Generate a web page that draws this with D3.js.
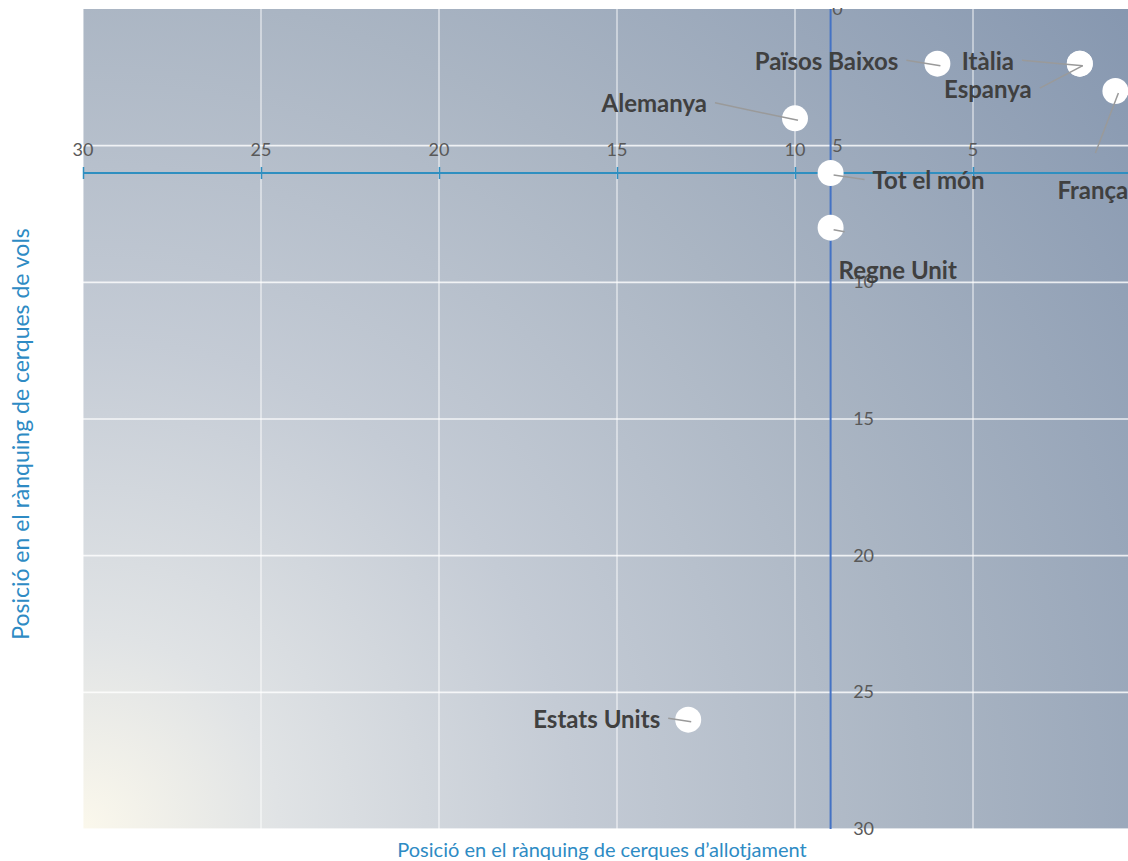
<!DOCTYPE html>
<html>
<head>
<meta charset="utf-8">
<script src="https://cdn.jsdelivr.net/npm/d3@7"></script>
<style>
  body { margin: 0; background: #fff; }
  .tick-label { font-family: Lato, "Open Sans", sans-serif; font-size: 18px; fill: #595959; }
  .pt-label { font-family: Lato, "Open Sans", sans-serif; font-size: 24px; font-weight: bold; fill: #404040; }
  .axis-title { font-family: Lato, "Open Sans", sans-serif; font-size: 20px; fill: #2e8bc4; }
</style>
</head>
<body>
<div id="chart"></div>
<script>
// countries and their positions in both rankings
var countries = ["Tot el món", "Regne Unit", "Alemanya", "Països Baixos", "Itàlia", "Espanya", "França", "Estats Units"];
var allotjament = [9, 9, 10, 6, 2, 2, 1, 13];   // x: accommodation search rank
var vols        = [6, 8, 4, 2, 2, 2, 3, 26];    // y: flight search rank
var xTicks = [30, 25, 20, 15, 10, 5, 0];
var yTicks = [0, 5, 10, 15, 20, 25, 30];

// where each label sits relative to its point (dx, dy, anchor)
var labelPos = {
    "Tot el món":    [42, 8, "start"],
    "Regne Unit":    [8, 43, "start"],
    "Alemanya":      [-88, -14, "end"],
    "Països Baixos": [-39, -2, "end"],
    "Itàlia":        [-118, -2, "start"],
    "Espanya":       [-48, 26, "end"],
    "França":        [-58, 100, "start"],
    "Estats Units":  [-28, 0, "end"]
};

var width = 1128, height = 861;
var plot = {left: 83, right: 1151, top: 9, bottom: 829};

var svg = d3.select("#chart").append("svg")
    .attr("width", width)
    .attr("height", height);

var defs = svg.append("defs");
var grad = defs.append("radialGradient")
    .attr("id", "bg")
    .attr("gradientUnits", "userSpaceOnUse")
    .attr("cx", plot.left).attr("cy", plot.bottom).attr("r", 1400);
grad.append("stop").attr("offset", "0%").attr("stop-color", "#fbf8ec");
grad.append("stop").attr("offset", "14%").attr("stop-color", "#e0e3e5");
grad.append("stop").attr("offset", "35%").attr("stop-color", "#c4cbd5");
grad.append("stop").attr("offset", "60%").attr("stop-color", "#aab5c3");
grad.append("stop").attr("offset", "100%").attr("stop-color", "#8193ad");

var x = d3.scaleLinear().domain([30, 0]).range([plot.left, plot.right]);
var y = d3.scaleLinear().domain([0, 30]).range([plot.top, plot.bottom]);

svg.append("rect")
    .attr("x", plot.left).attr("y", plot.top)
    .attr("width", width - plot.left).attr("height", plot.bottom - plot.top)
    .attr("fill", "url(#bg)");

// gridlines
svg.append("g").selectAll("line")
    .data(xTicks.filter(function(d) { return d > 0; }))
    .enter().append("line")
    .attr("x1", function(d) { return x(d); }).attr("x2", function(d) { return x(d); })
    .attr("y1", plot.top).attr("y2", plot.bottom)
    .attr("stroke", "#ffffff").attr("stroke-opacity", 0.75).attr("stroke-width", 1.2);

svg.append("g").selectAll("line")
    .data(yTicks.filter(function(d) { return d > 0; }))
    .enter().append("line")
    .attr("x1", plot.left).attr("x2", width)
    .attr("y1", function(d) { return y(d); }).attr("y2", function(d) { return y(d); })
    .attr("stroke", "#ffffff").attr("stroke-opacity", 0.8).attr("stroke-width", 1.6);

// horizontal axis crosses at the "Tot el món" flight rank
var xAxisY = y(vols[0]);
var yAxisX = x(allotjament[0]);

var xAxis = d3.axisBottom(x).tickValues(xTicks).tickSize(12).tickFormat("");
var gx = svg.append("g")
    .attr("transform", "translate(0," + (xAxisY - 6) + ")")
    .call(xAxis);
gx.select(".domain").remove();
gx.selectAll(".tick line").attr("stroke", "#2f8fc0").attr("stroke-width", 1.5);
svg.append("line")
    .attr("x1", plot.left).attr("x2", width)
    .attr("y1", xAxisY).attr("y2", xAxisY)
    .attr("stroke", "#2f8fc0").attr("stroke-width", 2);

svg.append("g").selectAll("text")
    .data(xTicks.filter(function(d) { return x(d) < width - 10; }))
    .enter().append("text")
    .attr("class", "tick-label")
    .attr("x", function(d) { return x(d); })
    .attr("y", xAxisY - 17)
    .attr("text-anchor", "middle")
    .text(function(d) { return d; });

// vertical axis
svg.append("line")
    .attr("x1", yAxisX).attr("x2", yAxisX)
    .attr("y1", plot.top).attr("y2", plot.bottom)
    .attr("stroke", "#4472c4").attr("stroke-width", 2);

svg.append("g").selectAll("text")
    .data(yTicks)
    .enter().append("text")
    .attr("class", "tick-label")
    .attr("x", function(d) { return yAxisX + (d < 10 ? 7 : 33); })
    .attr("y", function(d) { return y(d) + 6; })
    .attr("text-anchor", "middle")
    .text(function(d) { return d; });

// points
var pts = countries.map(function(c, i) {
    return {name: c, px: x(allotjament[i]), py: y(vols[i]), lp: labelPos[c]};
});

svg.append("g").selectAll("circle")
    .data(pts)
    .enter().append("circle")
    .attr("cx", function(d) { return d.px; })
    .attr("cy", function(d) { return d.py; })
    .attr("r", 13)
    .attr("fill", "#ffffff");

var labels = svg.append("g").selectAll("text")
    .data(pts)
    .enter().append("text")
    .attr("class", "pt-label")
    .attr("x", function(d) { return d.px + d.lp[0]; })
    .attr("y", function(d) { return d.py + d.lp[1] + 8; })
    .attr("text-anchor", function(d) { return d.lp[2]; })
    .text(function(d) { return d.name; });

// leader lines from label edge to point
labels.each(function(d) {
    var b = this.getBBox();
    var lx, ly;
    if (d.name === "França") { lx = b.x + 38; ly = b.y - 22; }
    else if (d.name === "Regne Unit") { lx = d.px + 14; ly = d.py + 4; }
    else if (b.x > d.px) { lx = b.x - 8; ly = b.y + b.height / 2; }
    else { lx = b.x + b.width + 8; ly = b.y + b.height / 2; }
    svg.append("line")
        .attr("x1", lx).attr("y1", ly)
        .attr("x2", d.px + 3).attr("y2", d.py + 2)
        .attr("stroke", "#9a9a9a").attr("stroke-width", 1.5);
});

// top edge of the picture is cut
svg.append("rect").attr("x", 0).attr("y", 0).attr("width", width).attr("height", plot.top - 1).attr("fill", "#fff");

// axis titles
svg.append("text")
    .attr("class", "axis-title")
    .attr("x", 602).attr("y", 857)
    .attr("text-anchor", "middle")
    .text("Posició en el rànquing de cerques d’allotjament");

svg.append("text")
    .attr("class", "axis-title")
    .style("font-size", "23px")
    .attr("transform", "translate(29,434) rotate(-90)")
    .attr("text-anchor", "middle")
    .text("Posició en el rànquing de cerques de vols");
</script>
</body>
</html>
